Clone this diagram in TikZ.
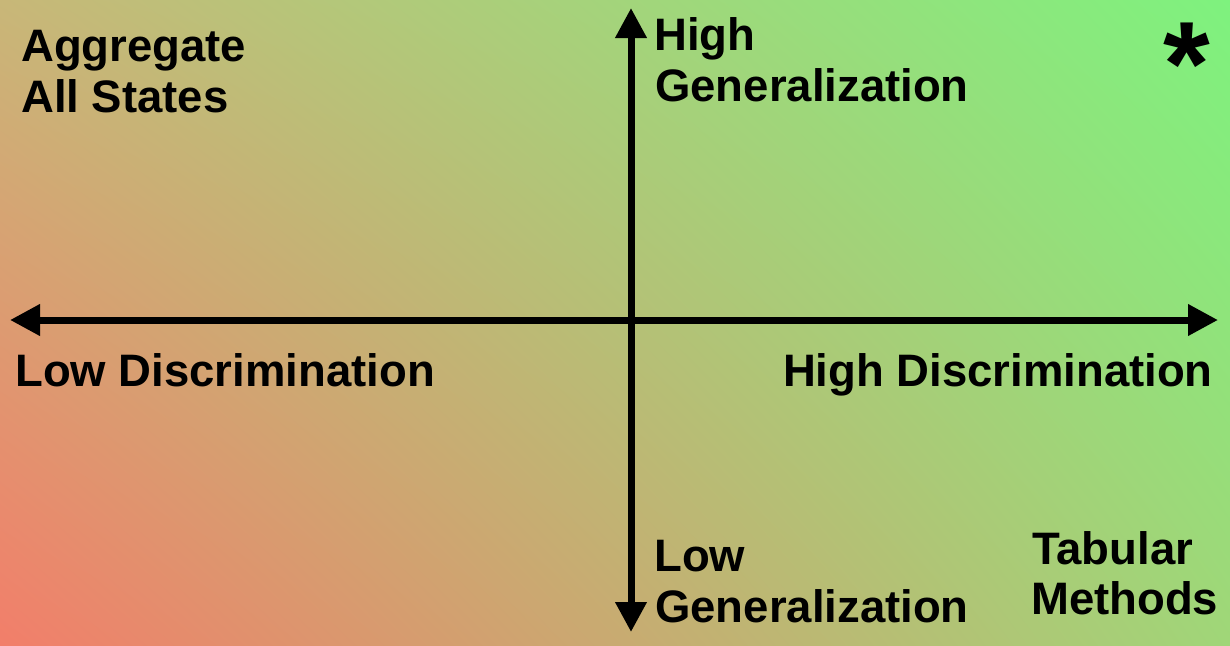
\documentclass[tikz,border=0pt]{standalone}
\usepackage{fontspec}
\setmainfont{Liberation Sans}
\usetikzlibrary{arrows.meta,shadings}
\definecolor{cTL}{RGB}{200,183,120}
\definecolor{cTR}{RGB}{126,242,126}
\definecolor{cBL}{RGB}{242,126,106}
\definecolor{cBR}{RGB}{160,214,120}
\tikzset{
  axis/.style={line width=7pt, {Triangle[length=30pt,width=30pt]}-{Triangle[length=30pt,width=30pt]}},
  lbl/.style={inner sep=0pt, font=\fontsize{45.5}{50}\selectfont\bfseries, text=black},
}
\begin{document}
\begin{tikzpicture}[x=1pt,y=-1pt]
\useasboundingbox (0,0) rectangle (1230,645);
\shade[upper left=cTL, upper right=cTR, lower left=cBL, lower right=cBR] (0,0) rectangle (1230,645);
\coordinate (L) at (10,320);
\coordinate (R) at (1218,320);
\coordinate (T) at (631,8);
\coordinate (B) at (631,632);
\draw[axis] (L) -- (R);
\draw[axis] (B) -- (T);
\node[lbl, anchor=base west] (agg1) at (21,61) {Aggregate};
\node[lbl, anchor=base west] (agg2) at (21,112) {All States};
\node[lbl, anchor=base west] (hg1) at (654,50) {High};
\node[lbl, anchor=base west] (hg2) at (655,101) {Generalization};
\node[lbl, anchor=base west] (ld) at (15,386) {Low Discrimination};
\node[lbl, anchor=base east] (hd) at (1213,386) {High Discrimination};
\node[lbl, anchor=base west] (lg1) at (654,571) {Low};
\node[lbl, anchor=base west] (lg2) at (655,622) {Generalization};
\node[lbl, anchor=base west] (tab1) at (1032,564) {Tabular};
\node[lbl, anchor=base west] (tab2) at (1031,614) {Methods};
\node[lbl, font=\fontsize{120}{120}\selectfont\bfseries] (star) at (1187,64) {*};
\end{tikzpicture}
\end{document}
